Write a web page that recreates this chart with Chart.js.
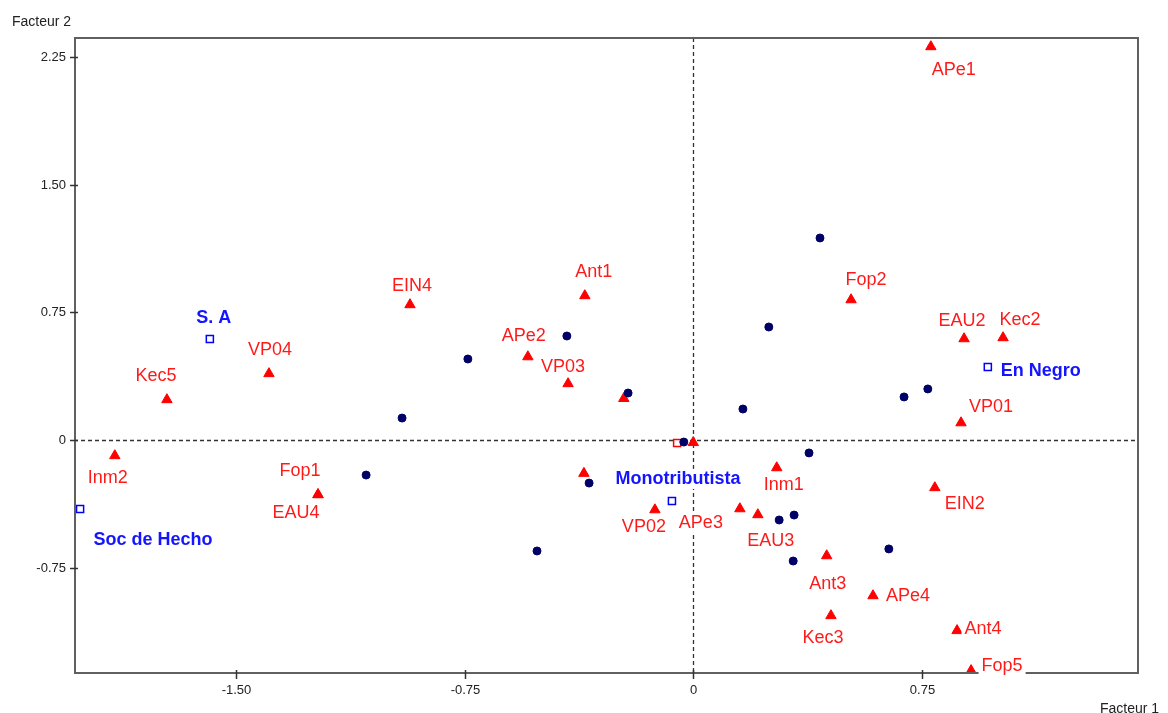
<!DOCTYPE html>
<html>
<head>
<meta charset="utf-8">
<script src="https://cdn.jsdelivr.net/npm/chart.js@4"></script>
<style>
html, body { margin: 0; padding: 0; background: #fff; }
canvas { display: block; }
</style>
</head>
<body>
<canvas id="graphique" width="1168" height="713"></canvas>
<script>
// modalites actives (triangles rouges)
var modalites = ["APe1", "Fop2", "EAU2", "Kec2", "VP01", "EIN2", "Ant4", "Fop5", "APe4", "Kec3", "Ant3", "EAU3",
  "APe3", "Inm1", "VP02", "VP03", "APe2", "Ant1", "EIN4", "VP04", "Kec5", "Inm2", "Fop1", "EAU4", "", "", ""];
var modalitesX = [0.780, 0.518, 0.889, 1.017, 0.879, 0.793, 0.866, 0.912, 0.590, 0.452, 0.438, 0.212,
  0.153, 0.274, -0.126, -0.411, -0.543, -0.356, -0.930, -1.393, -1.728, -1.899, -1.232, -1.232, 0.000, -0.359, -0.228];
var modalitesY = [2.311, 0.824, 0.595, 0.601, 0.101, -0.280, -1.120, -1.355, -0.915, -1.032, -0.680, -0.439,
  -0.404, -0.163, -0.410, 0.331, 0.489, 0.848, 0.795, 0.390, 0.237, -0.092, -0.321, -0.321, -0.015, -0.196, 0.244];

// individus (points bleu marine)
var individusX = [0.416, 0.248, -0.415, -0.740, -0.956, -1.074, -0.513, -0.342, -0.214, -0.031, 0.163, 0.380,
  0.282, 0.331, 0.328, 0.642, 0.692, 0.770];
var individusY = [1.187, 0.664, 0.611, 0.476, 0.129, -0.206, -0.652, -0.253, 0.276, -0.012, 0.182, -0.076,
  -0.470, -0.441, -0.711, -0.640, 0.253, 0.300];

// modalites illustratives (carres bleus)
var illustratives = ["S. A", "Soc de Hecho", "Monotributista", "En Negro"];
var illustrativesX = [-1.587, -2.013, -0.070, 0.967];
var illustrativesY = [0.593, -0.405, -0.358, 0.429];

var autreX = [-0.053];
var autreY = [-0.018];

var ticksX = [-1.5, -0.75, 0, 0.75];
var ticksXTexte = ["-1.50", "-0.75", "0", "0.75"];
var ticksY = [2.25, 1.5, 0.75, 0, -0.75];
var ticksYTexte = ["2.25", "1.50", "0.75", "0", "-0.75"];

// placement des etiquettes (decalage du centre du texte, en px)
var decalagesModalites = [[23, 23], [15, -20], [-2, -18], [17, -18], [30, -16], [30, 16], [26, -2], [31, -5],
  [35, 0], [-8, 22], [1, 28], [13, 26], [-39, 14], [7, 17], [-11, 17], [-5, -17], [-4, -21], [9, -24],
  [2, -19], [1, -24], [-11, -24], [-7, 22], [-18, -24], [-22, 18], [0, 0], [0, 0], [0, 0]];
var decalagesIllustratives = [[4, -21], [73, 31], [6, -22], [53, 4]];

var police = '"Liberation Sans", Arial, sans-serif';

function points(xs, ys) {
  var res = [];
  for (var i = 0; i < xs.length; i++) res.push({ x: xs[i], y: ys[i] });
  return res;
}

var decor = {
  id: "decor",
  beforeDatasetsDraw: function (chart) {
    var ctx = chart.ctx, a = chart.chartArea;
    var sx = chart.scales.x, sy = chart.scales.y;
    var x0 = Math.round(sx.getPixelForValue(0)) + 0.5, y0 = Math.round(sy.getPixelForValue(0)) + 0.5;
    ctx.save();
    ctx.strokeStyle = "#333";
    ctx.lineWidth = 1.3;
    ctx.setLineDash([4, 3]);
    ctx.beginPath();
    ctx.moveTo(x0, a.top); ctx.lineTo(x0, a.bottom);
    ctx.moveTo(a.left, y0); ctx.lineTo(a.right, y0);
    ctx.stroke();
    ctx.restore();
  },
  afterDatasetsDraw: function (chart) {
    var ctx = chart.ctx, a = chart.chartArea;
    var sx = chart.scales.x, sy = chart.scales.y;
    ctx.save();
    ctx.strokeStyle = "#606060";
    ctx.lineWidth = 2;
    ctx.strokeRect(a.left + 1, a.top, a.right - a.left - 1, a.bottom - a.top);

    ctx.lineWidth = 1.5;
    ctx.strokeStyle = "#333";
    ctx.fillStyle = "#222";
    ctx.font = "13px " + police;
    ctx.textBaseline = "middle";
    ctx.textAlign = "right";
    for (var i = 0; i < ticksY.length; i++) {
      var py = Math.round(sy.getPixelForValue(ticksY[i])) + 0.5;
      ctx.beginPath(); ctx.moveTo(a.left - 4, py); ctx.lineTo(a.left + 4, py); ctx.stroke();
      ctx.fillText(ticksYTexte[i], a.left - 8, py);
    }
    ctx.textAlign = "center";
    for (var j = 0; j < ticksX.length; j++) {
      var px = Math.round(sx.getPixelForValue(ticksX[j])) + 0.5;
      ctx.beginPath(); ctx.moveTo(px, a.bottom - 3); ctx.lineTo(px, a.bottom + 6); ctx.stroke();
      ctx.fillText(ticksXTexte[j], px, a.bottom + 17);
    }

    ctx.font = "14px " + police;
    ctx.textAlign = "left";
    ctx.textBaseline = "alphabetic";
    ctx.fillText("Facteur 2", 12, 26);
    ctx.fillText("Facteur 1", 1100, 713);

    chart.data.datasets.forEach(function (ds, k) {
      if (!ds.etiquettes) return;
      var meta = chart.getDatasetMeta(k);
      ctx.font = ds.policeEtiquette;
      ctx.textAlign = "center";
      ctx.textBaseline = "middle";
      meta.data.forEach(function (el, n) {
        var txt = ds.etiquettes[n];
        if (!txt) return;
        var cx = el.x + ds.decalages[n][0], cy = el.y + ds.decalages[n][1];
        var w = ctx.measureText(txt).width;
        ctx.fillStyle = "#fff";
        ctx.fillRect(cx - w / 2 - 3, cy - 10, w + 6, 20);
        ctx.fillStyle = ds.couleurEtiquette;
        ctx.fillText(txt, cx, cy);
      });
    });
    ctx.restore();
  }
};

new Chart(document.getElementById("graphique"), {
  type: "scatter",
  data: {
    datasets: [
      {
        label: "individus",
        data: points(individusX, individusY),
        pointStyle: "circle",
        pointRadius: 4,
        backgroundColor: "#000066",
        borderColor: "#000066",
        borderWidth: 1
      },
      {
        label: "modalites",
        data: points(modalitesX, modalitesY),
        pointStyle: "triangle",
        pointRadius: 6,
        backgroundColor: "#ff0000",
        borderColor: "#ff0000",
        borderWidth: 1,
        etiquettes: modalites,
        decalages: decalagesModalites,
        policeEtiquette: "18px " + police,
        couleurEtiquette: "#ff1a1a"
      },
      {
        label: "autre",
        data: points(autreX, autreY),
        pointStyle: "rect",
        pointRadius: 5,
        backgroundColor: "#fff",
        borderColor: "#ff0000",
        borderWidth: 1.5
      },
      {
        label: "illustratives",
        data: points(illustrativesX, illustrativesY),
        pointStyle: "rect",
        pointRadius: 5,
        backgroundColor: "#fff",
        borderColor: "#0000ff",
        borderWidth: 1.5,
        etiquettes: illustratives,
        decalages: decalagesIllustratives,
        policeEtiquette: "bold 18px " + police,
        couleurEtiquette: "#1414ff"
      }
    ]
  },
  options: {
    responsive: false,
    animation: false,
    events: [],
    layout: { padding: { left: 74, right: 30, top: 38, bottom: 40 } },
    plugins: { legend: { display: false }, tooltip: { enabled: false } },
    scales: {
      x: { type: "linear", min: -2.033, max: 1.460, display: false },
      y: { type: "linear", min: -1.369, max: 2.362, display: false }
    }
  },
  plugins: [decor]
});
</script>
</body>
</html>
